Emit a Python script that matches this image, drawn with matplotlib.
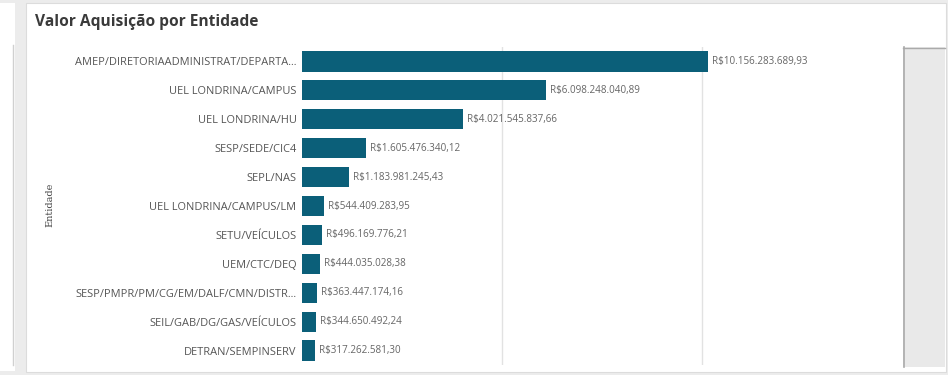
import matplotlib
matplotlib.use("Agg")
import matplotlib.pyplot as plt
from matplotlib.patches import Rectangle

categories = [
    "AMEP/DIRETORIAADMINISTRAT/DEPARTA...",
    "UEL LONDRINA/CAMPUS",
    "UEL LONDRINA/HU",
    "SESP/SEDE/CIC4",
    "SEPL/NAS",
    "UEL LONDRINA/CAMPUS/LM",
    "SETU/VEÍCULOS",
    "UEM/CTC/DEQ",
    "SESP/PMPR/PM/CG/EM/DALF/CMN/DISTR...",
    "SEIL/GAB/DG/GAS/VEÍCULOS",
    "DETRAN/SEMPINSERV",
]
values = [
    10156283689.93,
    6098248040.89,
    4021545837.66,
    1605476340.12,
    1183981245.43,
    544409283.95,
    496169776.21,
    444035028.38,
    363447174.16,
    344650492.24,
    317262581.30,
]
value_labels = [
    "R$10.156.283.689,93",
    "R$6.098.248.040,89",
    "R$4.021.545.837,66",
    "R$1.605.476.340,12",
    "R$1.183.981.245,43",
    "R$544.409.283,95",
    "R$496.169.776,21",
    "R$444.035.028,38",
    "R$363.447.174,16",
    "R$344.650.492,24",
    "R$317.262.581,30",
]
gridlines = [5e9, 10e9]

plt.rcParams['font.family'] = ['Open Sans', 'DejaVu Sans']

W, H = 948, 375
fig = plt.figure(figsize=(W / 100, H / 100), dpi=100)
fig.patch.set_facecolor('#ececec')

def fx(px):
    return px / W

def fy(py):
    return 1 - py / H

# panels
fig.add_artist(Rectangle((0, fy(371)), fx(15), fy(3) - fy(371), transform=fig.transFigure,
                         facecolor='white', edgecolor='none', zorder=0))
fig.add_artist(Rectangle((fx(26), fy(372)), fx(946) - fx(26), fy(3) - fy(372), transform=fig.transFigure,
                         facecolor='white', edgecolor='#dcdcdc', linewidth=0.8, zorder=0))
# left panel inner border fragment
fig.add_artist(plt.Line2D([fx(13), fx(13)], [fy(365), fy(45)], transform=fig.transFigure,
                          color='#d0d0d0', linewidth=1))
# scrollbar
fig.add_artist(Rectangle((fx(903), fy(367)), fx(945) - fx(903), fy(47) - fy(367), transform=fig.transFigure,
                         facecolor='#e9e9e9', edgecolor='none', zorder=1))
fig.add_artist(plt.Line2D([fx(903.5), fx(903.5)], [fy(367), fy(47)], transform=fig.transFigure,
                          color='#aaaaaa', linewidth=1.2, zorder=2))
fig.add_artist(plt.Line2D([fx(903), fx(945)], [fy(47.5), fy(47.5)], transform=fig.transFigure,
                          color='#aaaaaa', linewidth=1.0, zorder=2))

fig.text(fx(35), fy(22), "Valor Aquisição por Entidade", fontsize=11.2, fontweight='bold',
         color='#3a3a3a', va='center', ha='left')

ax = fig.add_axes([fx(302), fy(365), fx(902) - fx(302), fy(47) - fy(365)])
ax.set_facecolor('none')
y = list(range(len(categories)))
ax.barh(y, values, height=0.7, color='#0b5f79', zorder=3)
ax.set_xlim(0, 15e9)
ax.set_ylim(len(categories) - 0.5, -0.5)
for g in gridlines:
    ax.axvline(g, color='#e2e2e2', linewidth=1, zorder=1)
for yi, v, lab in zip(y, values, value_labels):
    ax.text(v + 0.1e9, yi, lab, va='center', ha='left', fontsize=7.1, color='#666666')
ax.set_yticks(y)
ax.set_yticklabels(categories, fontsize=7.95, color='#555555')
ax.tick_params(axis='y', length=0, pad=4)
ax.set_xticks([])
for s in ax.spines.values():
    s.set_visible(False)
fig.text(fx(50), fy(205), "Entidade", rotation=90, fontsize=7, color='#444444',
         ha='center', va='center', family=['DejaVu Serif'])

fig.savefig("out.png", dpi=100)
